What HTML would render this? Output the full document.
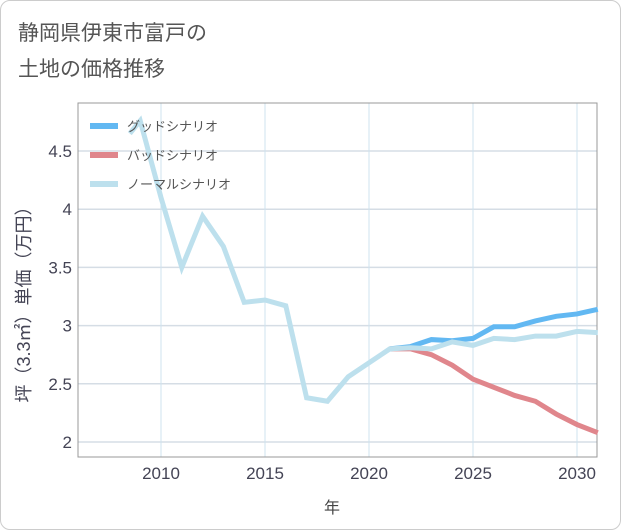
<!DOCTYPE html>
<html><head><meta charset="utf-8"><style>
body{margin:0;background:#fff;font-family:"Liberation Sans","Noto Sans CJK JP",sans-serif;}
.card{position:absolute;left:0;top:0;width:619px;height:528px;border:1px solid #ccc;border-radius:10px;background:#fff;}
</style></head><body>
<div class="card"></div>
<svg width="621" height="530" style="position:absolute;left:0;top:0">
<text x="18" y="40" font-size="21" fill="#555">静岡県伊東市富戸の</text>
<text x="18" y="76" font-size="21" fill="#555">土地の価格推移</text>
<g id="grid"></g>
<rect x="78" y="103" width="519" height="354" fill="none" stroke="#999" stroke-width="1"/>
<g id="ticks"></g>
<g id="series"></g>
<text x="332" y="513" font-size="16" fill="#444" text-anchor="middle">年</text>
<text transform="translate(30,300) rotate(-90)" font-size="18" fill="#445" text-anchor="middle">坪（3.3㎡）単価（万円）</text>
<g id="legend"></g>
</svg>
<script>
const xTicks=[2010,2015,2020,2025,2030];
const yTicks=[2,2.5,3,3.5,4,4.5];
const normalYears=[2008.5,2009,2010,2011,2012,2013,2014,2015,2016,2017,2018,2019,2020,2021,2022,2023,2024,2025,2026,2027,2028,2029,2030,2031];
const normalVals=[4.65,4.76,4.1,3.5,3.94,3.68,3.2,3.22,3.17,2.38,2.35,2.56,2.68,2.8,2.81,2.8,2.86,2.83,2.89,2.88,2.91,2.91,2.95,2.94];
const forecastYears=[2021,2022,2023,2024,2025,2026,2027,2028,2029,2030,2031];
const goodVals=[2.8,2.82,2.88,2.87,2.89,2.99,2.99,3.04,3.08,3.1,3.14];
const badVals=[2.8,2.8,2.75,2.66,2.54,2.47,2.4,2.35,2.24,2.15,2.08];
const seriesNames=["グッドシナリオ","バッドシナリオ","ノーマルシナリオ"];
const X=y=>161+(y-2010)*20.8;
const Y=v=>442-(v-2)*116.4;
const NS="http://www.w3.org/2000/svg";
function mk(tag,attrs,parent){const e=document.createElementNS(NS,tag);for(const k in attrs)e.setAttribute(k,attrs[k]);parent.appendChild(e);return e;}
const grid=document.getElementById('grid'),ticks=document.getElementById('ticks'),series=document.getElementById('series'),legend=document.getElementById('legend');
yTicks.forEach(v=>{
 const l=mk('line',{x1:78,x2:597,y1:Y(v),y2:Y(v),stroke:'#d5dde5','stroke-width':1.5},grid);
 
 
 const t=mk('text',{x:72,y:Y(v)+6,'font-size':17,fill:'#445','text-anchor':'end'},ticks);
 t.textContent=String(v);
 
 
});
xTicks.forEach(v=>{
 const l=mk('line',{x1:X(v),x2:X(v),y1:103,y2:457,stroke:'#cfe3ef','stroke-width':1},grid);
 
 
 const t=mk('text',{x:X(v),y:479,'font-size':17,fill:'#445','text-anchor':'middle'},ticks);
 t.textContent=String(v);
 
 
});
function line(xs,vs,color,name){
 const p=mk('polyline',{points:xs.map((x,i)=>X(x)+','+Y(vs[i])).join(' '),fill:'none',stroke:color,'stroke-width':5,'stroke-linejoin':'miter'},series);
 
 
}
line(forecastYears,badVals,'#e0868c','bad-scenario-line');
line(forecastYears,goodVals,'#62b8f2','good-scenario-line');
line(normalYears,normalVals,'#bde0ed','normal-scenario-line');
const colors=['#62b8f2','#e0868c','#bde0ed'];
seriesNames.forEach((n,i)=>{
 const y=126+i*29;
 const l=mk('line',{x1:90,x2:118,y1:y,y2:y,stroke:colors[i],'stroke-width':6},legend);
 
 
 const t=mk('text',{x:127,y:y+5,'font-size':13,fill:'#555'},legend);
 t.textContent=n;
 
 
});
</script>
</body></html>
